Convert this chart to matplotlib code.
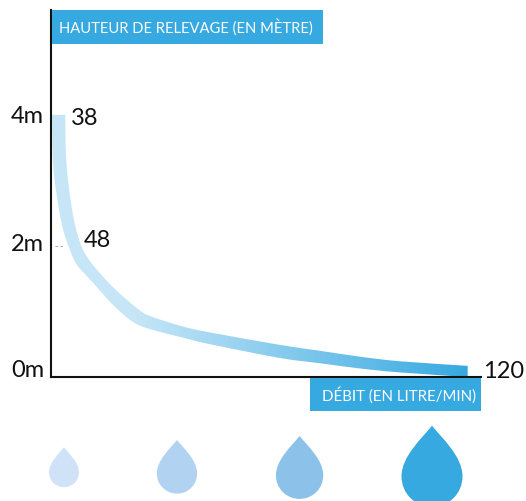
import numpy as np
import matplotlib
matplotlib.use("Agg")
import matplotlib.pyplot as plt
from matplotlib.colors import LinearSegmentedColormap
from matplotlib.patches import PathPatch, Rectangle
from matplotlib.path import Path
from matplotlib.transforms import Affine2D

plt.rcParams["font.family"] = "Lato"

# Band of the pump curve, flow (L/min) and head (m)
upper_flow = [39.36, 39.40, 39.50, 39.80, 40.30, 40.91, 41.71, 42.91, 44.91, 48.92, 53.73, 56.34, 62.95, 68.36, 82.39, 90.41, 98.42, 106.44, 120.0]
upper_head = [4.00, 3.69, 3.39, 3.08, 2.78, 2.47, 2.20, 1.94, 1.71, 1.37, 1.05, 0.93, 0.77, 0.68, 0.49, 0.40, 0.31, 0.24, 0.17]
lower_flow = [36.70, 36.76, 36.84, 37.10, 37.64, 38.30, 39.10, 40.30, 41.71, 44.91, 48.92, 52.93, 56.34, 62.95, 68.36, 82.39, 90.41, 98.42, 106.44, 120.0]
lower_head = [4.00, 3.69, 3.39, 3.08, 2.78, 2.47, 2.20, 1.94, 1.71, 1.44, 1.10, 0.84, 0.73, 0.60, 0.50, 0.29, 0.21, 0.13, 0.07, 0.00]

# Tick labels
head_labels = ["4m", "2m", "0m"]

# Flow labels next to the curve
flow_labels = ["38", "48", "120"]

# Drops under the chart
drop_center = [64, 177, 299.6, 432]
drop_top = [447.3, 440, 436, 425.7]
drop_width = [30, 40.3, 47.3, 61]
drop_colors = ["#cfe2f7", "#b1d3f1", "#8cc1ea", "#36a9e1"]

blue = "#36a9e1"


# Smooth path through the read points (Catmull-Rom as Bezier segments)
def smooth_segments(xs, ys):
    pts = np.column_stack([xs, ys])
    verts, codes = [], []
    for i in range(len(pts) - 1):
        p0 = pts[max(i - 1, 0)]
        p1 = pts[i]
        p2 = pts[i + 1]
        p3 = pts[min(i + 2, len(pts) - 1)]
        verts += [p1 + (p2 - p0) / 6, p2 - (p3 - p1) / 6, p2]
        codes += [Path.CURVE4] * 3
    return verts, codes


fig = plt.figure(figsize=(5.26, 5.01), dpi=100)

# Main chart
ax = fig.add_axes([51 / 526, 124 / 501, 430 / 526, 367 / 501])
ax.set_xlim(36.50, 122.67)
ax.set_ylim(0, 5.6)
ax.patch.set_alpha(0)
for side in ["top", "right"]:
    ax.spines[side].set_visible(False)
for side in ["left", "bottom"]:
    ax.spines[side].set_linewidth(1.5)
    ax.spines[side].set_color("#111111")
ax.set_xticks([])
ax.set_yticks([])

# Curve with a left to right gradient
up_v, up_c = smooth_segments(upper_flow, upper_head)
low_v, low_c = smooth_segments(lower_flow[::-1], lower_head[::-1])
verts = [(upper_flow[0], upper_head[0])] + up_v + [(lower_flow[-1], lower_head[-1])] + low_v + [(upper_flow[0], upper_head[0])]
codes = [Path.MOVETO] + up_c + [Path.LINETO] + low_c + [Path.CLOSEPOLY]
band = PathPatch(Path(verts, codes), facecolor="none", edgecolor="none", transform=ax.transData)
ax.add_patch(band)
cmap = LinearSegmentedColormap.from_list("band", [(0, "#c6e6f7"), (0.2, "#c6e6f7"), (1, blue)])
img = ax.imshow(np.linspace(0, 1, 256).reshape(1, -1), cmap=cmap, aspect="auto",
                extent=(36.7, 120.0, 0, 4), zorder=1)
img.set_clip_path(band)
ax.set_xlim(36.50, 122.67)
ax.set_ylim(0, 5.6)

# Small dashes at 2m
ax.plot([37.3, 39.3], [2, 2], color="#999999", lw=0.6, ls=(0, (3, 3)), zorder=0.5)

# Overlay in pixel coordinates for labels, banners and drops
over = fig.add_axes([0, 0, 1, 1])
over.set_xlim(0, 526)
over.set_ylim(501, 0)
over.axis("off")
over.patch.set_alpha(0)

num_size = 17
for y_px, label in zip([122.5, 250.5, 377], head_labels):
    over.text(44, y_px, label, ha="right", va="baseline", fontsize=num_size, color="#111111")

over.text(71, 124.5, flow_labels[0], ha="left", va="baseline", fontsize=num_size, color="#111111")
over.text(84, 246.5, flow_labels[1], ha="left", va="baseline", fontsize=num_size, color="#111111")
over.text(483, 378, flow_labels[2], ha="left", va="baseline", fontsize=num_size, color="#111111")

over.add_patch(Rectangle((52, 10), 271, 34, facecolor=blue, edgecolor="none"))
over.text(59, 32.5, "HAUTEUR DE RELEVAGE (EN MÈTRE)", ha="left", va="baseline",
          fontsize=10.65, color="white")
over.add_patch(Rectangle((310, 378), 171, 33, facecolor=blue, edgecolor="none"))
over.text(322.5, 400.7, "DÉBIT (EN LITRE/MIN)", ha="left", va="baseline",
          fontsize=10.85, color="white")

# Unit drop: width 1, tip at the origin
drop_verts = [(0, 0), (0.16, 0.2), (0.5, 0.5), (0.5, 0.83),
              (0.5, 1.11), (0.28, 1.33), (0, 1.33),
              (-0.28, 1.33), (-0.5, 1.11), (-0.5, 0.83),
              (-0.5, 0.5), (-0.16, 0.2), (0, 0)]
drop_codes = [Path.MOVETO] + [Path.CURVE4] * 12
drop = Path(drop_verts, drop_codes)
for cx, top, w, col in zip(drop_center, drop_top, drop_width, drop_colors):
    tr = Affine2D().scale(w).translate(cx, top) + over.transData
    over.add_patch(PathPatch(drop, facecolor=col, edgecolor="none", transform=tr))

fig.savefig("out.png", dpi=100)
